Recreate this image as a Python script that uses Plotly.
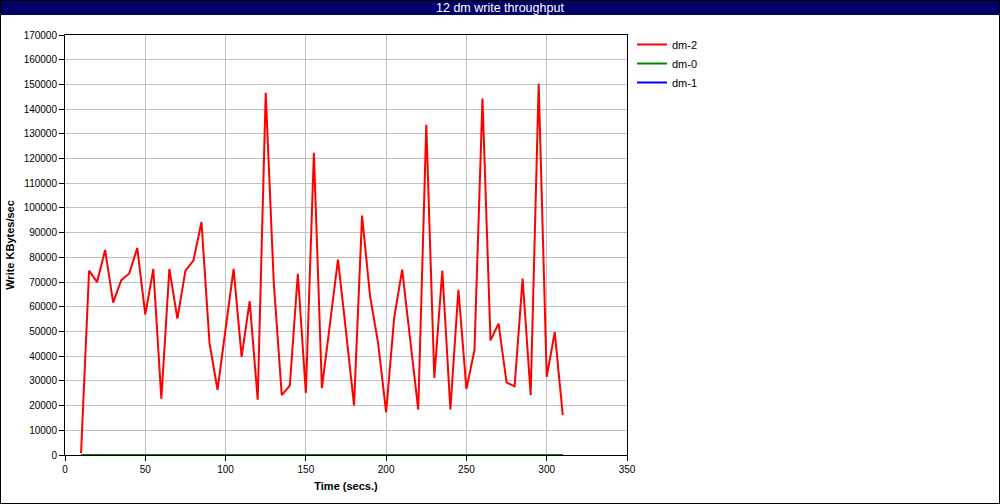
import plotly.graph_objects as go

time_secs = [10, 15, 20, 25, 30, 35, 40, 45, 50, 55, 60, 65, 70, 75, 80, 85, 90, 95, 100,
             105, 110, 115, 120, 125, 130, 135, 140, 145, 150, 155, 160, 165, 170, 175, 180,
             185, 190, 195, 200, 205, 210, 215, 220, 225, 230, 235, 240, 245, 250, 255, 260,
             265, 270, 275, 280, 285, 290, 295, 300, 305, 310]
dm2 = [800, 74600, 70000, 83000, 61700, 70700, 73500, 83800, 56800, 75300, 22800, 75300, 55200,
       74600, 78700, 94300, 45300, 26400, 51000, 75300, 39700, 62300, 22400, 146600, 70000,
       24200, 28100, 73300, 25100, 122300, 27100, 53000, 79100, 50000, 20100, 96900, 64200,
       45300, 17300, 55500, 75000, 46500, 18400, 133700, 31200, 74600, 18400, 66900, 26700,
       42400, 144300, 46400, 53200, 29400, 27800, 71400, 24200, 150300, 31600, 49700, 16100]
dm0 = [0] * len(time_secs)
dm1 = [0] * len(time_secs)

x_ticks = [0, 50, 100, 150, 200, 250, 300, 350]
y_ticks = list(range(0, 170001, 10000))

FONT = "Liberation Sans"
fig = go.Figure()
fig.add_trace(go.Scatter(x=time_secs, y=dm1, mode="lines", name="dm-1",
                         line=dict(color="#0000ff", width=2), legendrank=3))
fig.add_trace(go.Scatter(x=time_secs, y=dm0, mode="lines", name="dm-0",
                         line=dict(color="#008800", width=2), legendrank=2))
fig.add_trace(go.Scatter(x=time_secs, y=dm2, mode="lines", name="dm-2",
                         line=dict(color="#ff0000", width=2), legendrank=1))

L, R, T, B = 65, 373, 35, 49
W, H = 1000, 504
pw, ph = W - L - R, H - T - B

def px(xp):
    return (xp - L) / pw

def py(yp):
    return (H - B - yp) / ph

fig.update_layout(
    width=W, height=H,
    margin=dict(l=L, r=R, t=T, b=B, autoexpand=False),
    paper_bgcolor="white", plot_bgcolor="white",
    font=dict(family=FONT, size=10, color="black"),
    showlegend=True,
    hovermode=False,
    legend=dict(x=px(632), y=py(30), xanchor="left", yanchor="top",
                bgcolor="rgba(0,0,0,0)", font=dict(size=11), itemwidth=30,
                tracegroupgap=0),
    xaxis=dict(range=[0, 350], tickvals=x_ticks, showgrid=True, gridcolor="#c0c0c0",
               gridwidth=1, showline=True, linecolor="black", linewidth=1, mirror=True,
               ticks="outside", ticklen=5, tickcolor="black", zeroline=False,
               automargin=False,
               title=dict(text="<b>Time (secs.)</b>", font=dict(size=11), standoff=8)),
    yaxis=dict(range=[0, 170000], tickvals=y_ticks, showgrid=True, gridcolor="#c0c0c0",
               gridwidth=1, showline=True, linecolor="black", linewidth=1, mirror=True,
               ticks="outside", ticklen=5, tickcolor="black", zeroline=False,
               tickformat="d", automargin=False,
               title=dict(text="<b>Write KBytes/sec</b>", font=dict(size=11), standoff=6)),
    shapes=[
        dict(type="rect", xref="paper", yref="paper", x0=px(0), x1=px(1000),
             y0=py(15), y1=py(0), fillcolor="#000068", line=dict(width=0), layer="below"),
        dict(type="rect", xref="paper", yref="paper", x0=px(0.5), x1=px(999.5),
             y0=py(503.5), y1=py(0.5), line=dict(color="black", width=1),
             fillcolor="rgba(0,0,0,0)"),
    ],
    annotations=[
        dict(text="12 dm write throughput", xref="paper", yref="paper", x=px(500),
             y=py(7.5), xanchor="center", yanchor="middle", showarrow=False,
             font=dict(color="white", size=12.5, family=FONT)),
    ],
)

fig.write_html("out.html", config={"displayModeBar": False},
               post_script="document.body.style.margin='0';document.body.style.overflow='hidden';")
